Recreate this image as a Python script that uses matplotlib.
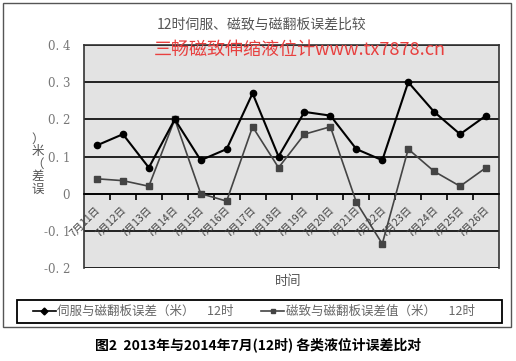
import matplotlib.pyplot as plt
from matplotlib.patches import Rectangle
from matplotlib.lines import Line2D

plt.rcParams['font.family'] = ['Noto Sans CJK SC', 'DejaVu Sans']

days = ['7月11日', '7月12日', '7月13日', '7月14日', '7月15日', '7月16日', '7月17日', '7月18日',
        '7月19日', '7月20日', '7月21日', '7月22日', '7月23日', '7月24日', '7月25日', '7月26日']
servo = [0.13, 0.16, 0.07, 0.20, 0.09, 0.12, 0.27, 0.10,
         0.22, 0.21, 0.12, 0.09, 0.30, 0.22, 0.16, 0.21]
magneto = [0.04, 0.035, 0.02, 0.20, 0.0, -0.02, 0.18, 0.07,
           0.16, 0.18, -0.023, -0.135, 0.12, 0.06, 0.02, 0.07]
yticks = [-0.2, -0.1, 0, 0.1, 0.2, 0.3, 0.4]
ytick_labels = ['-0. 2', '-0. 1', '0', '0. 1', '0. 2', '0. 3', '0. 4']

W, H = 516, 361
fig = plt.figure(figsize=(W / 100, H / 100), dpi=100)

# outer chart frame and legend box
fig.patches.append(Rectangle((3 / W, 1 - 327 / H), 508 / W, 324 / H, transform=fig.transFigure,
                             fill=False, edgecolor='#555555', lw=1.0))
fig.patches.append(Rectangle((17 / W, 1 - 323 / H), 485 / W, 23 / H, transform=fig.transFigure,
                             fill=False, edgecolor='black', lw=1.3))

ax = fig.add_axes([84 / W, 1 - 268 / H, 415 / W, 223 / H])
ax.set_facecolor('#e3e3e3')

x = list(range(len(days)))
ax.plot(x, servo, color='black', lw=1.5, marker='o', ms=4.5, zorder=4)
ax.plot(x, magneto, color='#444444', lw=1.2, marker='s', ms=4.5, zorder=3)

ax.set_xlim(-0.5, len(days) - 0.5)
ax.set_ylim(-0.2, 0.4)

ax.set_yticks(yticks)
ax.set_yticklabels(ytick_labels, color='#777777', fontsize=8.5, fontfamily=['DejaVu Serif'])
ax.tick_params(axis='y', length=0, pad=10)
ax.grid(axis='y', color='black', lw=1.2)
ax.set_axisbelow(True)

ax.spines['bottom'].set_position(('data', 0))
ax.spines['bottom'].set_linewidth(1.2)
for s in ['left', 'right', 'top']:
    ax.spines[s].set_color('#333333')
    ax.spines[s].set_linewidth(1.2)

ax.set_xticks([i + 0.5 for i in x[:-1]])
ax.set_xticklabels([])
ax.tick_params(axis='x', direction='out', length=4, width=1.2, color='black')
for i, d in enumerate(days):
    ax.annotate(d, (i, 0), xytext=(4, -8), textcoords='offset points', rotation=45,
                ha='right', va='top', fontsize=7.5, color='#444444')

# stacked y label
fig.text(38 / W, 1 - 164 / H, '）\n米\n（\n差\n误', ha='center', va='center', fontsize=9,
         color='#555555', linespacing=0.95)

fig.text(262 / W, 1 - 25 / H, '12时伺服、磁致与磁翻板误差比较', ha='center', va='center',
         fontsize=10, color='#555555')
fig.text(300 / W, 1 - 50 / H, '三畅磁致伸缩液位计www.tx7878.cn', ha='center', va='center',
         fontsize=13, color='#e8403f', zorder=10)
fig.text(288 / W, 1 - 282 / H, '时间', ha='center', va='center', fontsize=9.5, color='#555555')

handles = [Line2D([], [], color='black', lw=1.2, marker='D', ms=3.5),
           Line2D([], [], color='#444444', lw=1.2, marker='s', ms=3.5)]
leg = fig.legend(handles, ['伺服与磁翻板误差（米）\u300012时', '磁致与磁翻板误差值（米）\u300012时'],
                 loc='center left', bbox_to_anchor=(33 / W, 1 - 311.5 / H),
                 ncol=2, fontsize=9, frameon=False, handlelength=1.8, handletextpad=0.15,
                 columnspacing=2.2, borderaxespad=0, borderpad=0, labelcolor='#666666')

fig.text(258 / W, 1 - 345 / H, '图2  2013年与2014年7月(12时) 各类液位计误差比对', ha='center',
         va='center', fontsize=10, fontweight='bold', color='black')

fig.savefig('out.png', dpi=100)
